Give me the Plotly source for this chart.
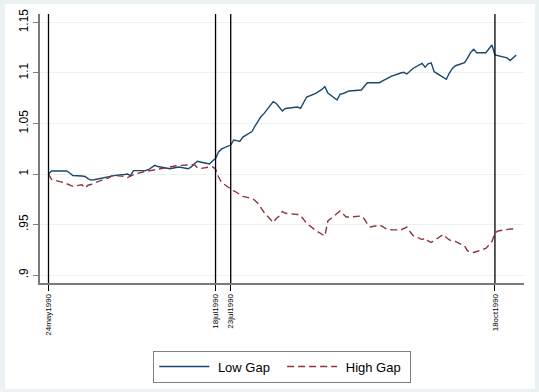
import pandas as pd
import plotly.graph_objects as go

holidays = ["1990-05-28", "1990-07-04", "1990-09-03"]
dates = pd.bdate_range("1990-05-24", "1990-10-25", freq="C", holidays=holidays)

low_gap = [
    1.000, 1.003, 1.003, 1.003, 1.001,
    0.9985, 0.998, 0.9975, 0.9955, 0.994, 0.9943, 0.996, 0.9965, 0.997, 0.998, 0.9987,
    0.9995, 1.000, 0.9985, 1.0033, 1.0033, 1.0035, 1.0045, 1.0064, 1.0086, 1.0074,
    1.0054, 1.0052, 1.0064, 1.007, 1.0052, 1.007, 1.0099, 1.0126, 1.0119, 1.0099, 1.0129,
    1.0153, 1.0218, 1.0248, 1.0287, 1.0337, 1.033, 1.0322, 1.0366, 1.042, 1.0475,
    1.0525, 1.057, 1.06, 1.0716, 1.0698, 1.0663, 1.0624, 1.0649, 1.0658, 1.0663, 1.0649,
    1.0703, 1.0762, 1.0799, 1.0817, 1.0837, 1.0864, 1.0802, 1.0733, 1.0789, 1.0797, 1.0812, 1.0822,
    1.0832, 1.0871, 1.0904, 1.0904, 1.0904, 1.0921, 1.0936, 1.0955, 1.097, 1.1, 1.1007,
    1.099, 1.102, 1.1045, 1.1096, 1.1057, 1.109, 1.11, 1.1013,
    1.0955, 1.0937, 1.1, 1.1045, 1.1072, 1.1102, 1.1149, 1.1203, 1.1235, 1.1201, 1.1201,
    1.1238, 1.1277, 1.1178, 1.1171, 1.1149, 1.1124, 1.1149, 1.1178,
]

high_gap = [
    1.000, 0.9946, 0.9916, 0.9901, 0.9886,
    0.9878, 0.9893, 0.9861, 0.9889, 0.9896, 0.9911, 0.9941, 0.9954, 0.9965, 0.9985, 0.9985,
    0.9975, 0.9965, 0.998, 0.9995, 1.0005, 1.0025, 1.003, 1.0035, 1.004, 1.0045,
    1.0059, 1.0069, 1.0082, 1.0084, 1.0084, 1.0089, 1.0094, 1.0064, 1.0054, 1.0069, 1.0071,
    1.005, 0.997, 0.9916, 0.9847, 0.9832, 0.9817, 0.9797, 0.9779, 0.9757, 0.9738,
    0.9708, 0.9663, 0.9619, 0.952, 0.9559, 0.9584, 0.9629, 0.9611, 0.9604, 0.9599, 0.9589,
    0.9554, 0.9512, 0.9441, 0.9423, 0.9404, 0.9386, 0.9535, 0.9614, 0.9634, 0.9604, 0.9574, 0.9574,
    0.9584, 0.9554, 0.9505, 0.9475, 0.9495, 0.948, 0.946, 0.9452, 0.9448, 0.9446, 0.946,
    0.9475, 0.9431, 0.9391, 0.9351, 0.9366, 0.9337, 0.9322, 0.9342,
    0.9401, 0.9371, 0.9347, 0.9337, 0.9332, 0.9287, 0.9238, 0.9228, 0.9223, 0.9233, 0.9264,
    0.9297, 0.933, 0.9416, 0.9436, 0.945, 0.9457, 0.9455, 0.9436,
]

event_dates = ["1990-05-24", "1990-07-18", "1990-07-23", "1990-10-18"]
event_labels = ["24may1990", "18jul1990", "23jul1990", "18oct1990"]
y_ticks = [0.9, 0.95, 1.0, 1.05, 1.1, 1.15]
y_labels = [".9", ".95", "1", "1.05", "1.1", "1.15"]

n = min(len(dates), len(low_gap), len(high_gap))
x = list(dates[:n])

FONT = "Liberation Sans, Arial, Helvetica, sans-serif"
fig = go.Figure()
fig.add_trace(go.Scatter(x=x, y=low_gap[:n], mode="lines", name=" Low Gap  ",
                         line=dict(color="#1a476f", width=1.4)))
fig.add_trace(go.Scatter(x=x, y=high_gap[:n], mode="lines", name=" High Gap ",
                         line=dict(color="#90353b", width=1.4, dash="7px,4px")))

start = pd.Timestamp("1990-05-24")
xr = [start + pd.Timedelta(days=-2.8), start + pd.Timedelta(days=156.57)]

shapes = [dict(type="rect", xref="paper", yref="paper", x0=-0.0723, x1=1.0227,
               y0=-0.394, y1=1.0372, fillcolor="white", line=dict(width=0), layer="below")]
for d in event_dates:
    shapes.append(dict(type="line", xref="x", yref="paper", x0=d, x1=d, y0=0, y1=1,
                       line=dict(color="black", width=1.3), layer="above"))

fig.update_layout(
    width=539, height=392,
    margin=dict(l=40, r=15, t=14, b=109, autoexpand=False),
    paper_bgcolor="#EAF2F3", plot_bgcolor="white",
    font=dict(family=FONT, color="black"),
    shapes=shapes,
    showlegend=True,
    legend=dict(orientation="h", xref="container", yref="container",
                x=0.5237, xanchor="center", y=1 - 350.5 / 392, yanchor="top",
                bgcolor="white", bordercolor="#808080", borderwidth=1,
                font=dict(size=13, family=FONT), itemwidth=50, tracegroupgap=0),
    xaxis=dict(type="date", range=xr, tickmode="array", tickvals=event_dates,
               ticktext=event_labels, tickangle=-90, tickfont=dict(size=8),
               ticks="outside", ticklen=6, tickwidth=1.2, tickcolor="black",
               showgrid=False, zeroline=False, showline=True, linecolor="#7a7a7a",
               linewidth=1.5, automargin=False),
    yaxis=dict(range=[0.8921, 1.1584], tickmode="array", tickvals=y_ticks,
               ticktext=y_labels, tickangle=-90, tickfont=dict(size=12),
               ticks="outside", ticklen=5, tickwidth=1.2, tickcolor="#7a7a7a",
               showgrid=True, gridcolor="#EAF2F3", gridwidth=1, zeroline=False,
               showline=True, linecolor="#7a7a7a", linewidth=1.5, automargin=False),
)

fig.write_html("out.html", config={"displayModeBar": False},
               post_script="document.body.style.margin='0';")
